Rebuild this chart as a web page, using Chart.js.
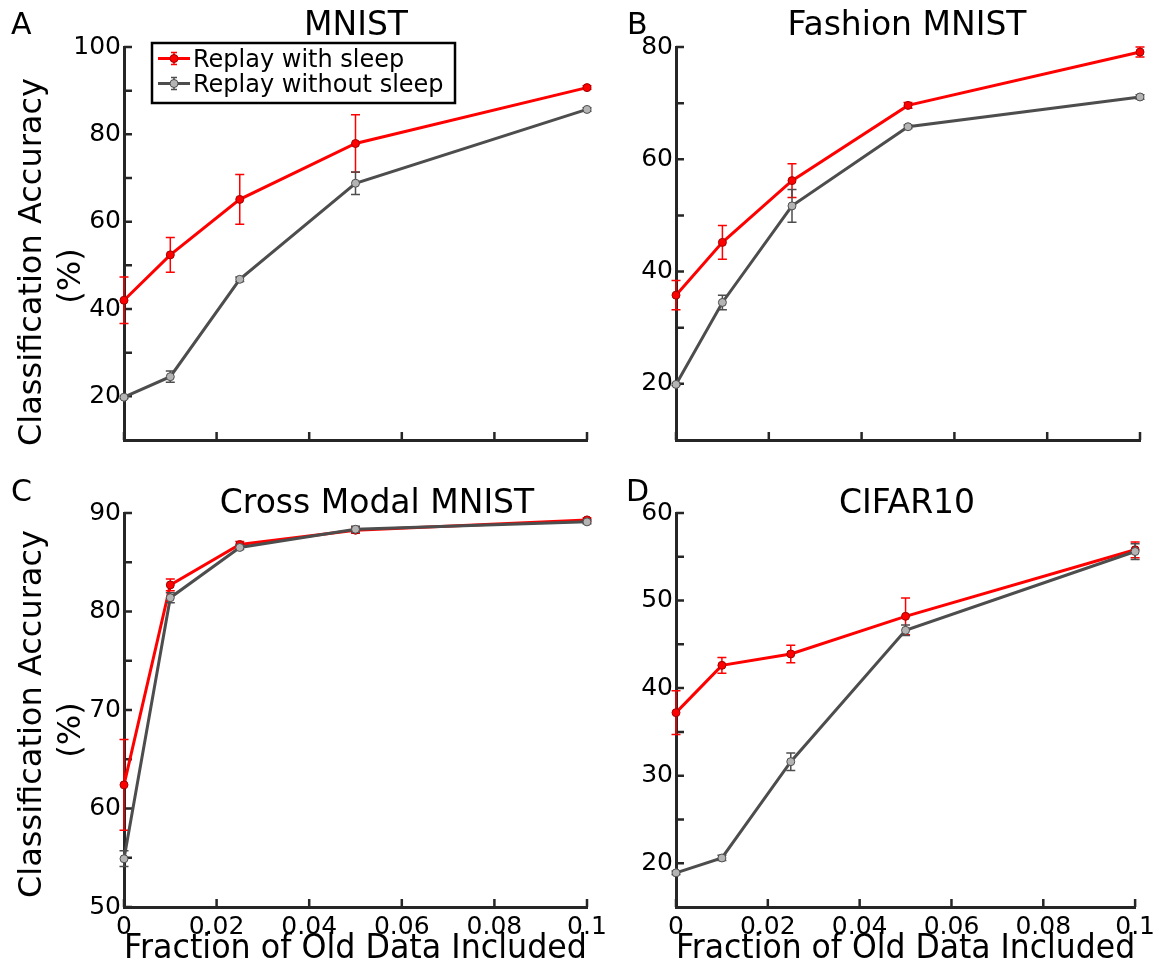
<!DOCTYPE html>
<html>
<head>
<meta charset="utf-8">
<script src="https://cdn.jsdelivr.net/npm/chart.js@4.4.1/dist/chart.umd.min.js"></script>
<style>
  html, body { margin: 0; padding: 0; background: #fff; }
  #wrap { position: relative; width: 1160px; height: 972px; }
  #wrap canvas { position: absolute; left: 0; top: 0; }
</style>
</head>
<body>
<div id="wrap">
  <canvas id="chartA" width="1160" height="972"></canvas>
  <canvas id="chartB" width="1160" height="972"></canvas>
  <canvas id="chartC" width="1160" height="972"></canvas>
  <canvas id="chartD" width="1160" height="972"></canvas>
</div>
<script>
// shared x values
const fractions = [0, 0.01, 0.025, 0.05, 0.1];
const xTicks = [0, 0.02, 0.04, 0.06, 0.08, 0.1];
const xTickLabels = ['0', '0.02', '0.04', '0.06', '0.08', '0.1'];
const seriesNames = ['Replay with sleep', 'Replay without sleep'];

// A - MNIST
const sleepA = [42.0, 52.4, 65.1, 77.9, 90.7];
const sleepErrA = [5.3, 4.0, 5.7, 6.6, 0.4];
const noSleepA = [19.8, 24.5, 46.8, 68.8, 85.7];
const noSleepErrA = [0.3, 1.3, 0.5, 2.6, 0.4];
const yTicksA = [20, 30, 40, 50, 60, 70, 80, 90, 100];
const yLabelsA = [20, 40, 60, 80, 100];

// B - Fashion MNIST
const sleepB = [35.8, 45.2, 56.2, 69.6, 79.1];
const sleepErrB = [2.6, 3.0, 3.0, 0.5, 0.9];
const noSleepB = [19.9, 34.5, 51.7, 65.8, 71.1];
const noSleepErrB = [0.2, 1.3, 2.9, 0.3, 0.4];
const yTicksB = [20, 30, 40, 50, 60, 70, 80];
const yLabelsB = [20, 40, 60, 80];

// C - Cross Modal MNIST
const sleepC = [62.4, 82.7, 86.8, 88.25, 89.3];
const sleepErrC = [4.6, 0.6, 0.3, 0.3, 0.2];
const noSleepC = [54.9, 81.4, 86.5, 88.35, 89.1];
const noSleepErrC = [0.8, 0.5, 0.2, 0.3, 0.2];
const yTicksC = [50, 55, 60, 65, 70, 75, 80, 85, 90];
const yLabelsC = [50, 60, 70, 80, 90];

// D - CIFAR10
const sleepD = [37.2, 42.6, 43.9, 48.2, 55.8];
const sleepErrD = [2.5, 0.9, 1.0, 2.1, 0.9];
const noSleepD = [18.9, 20.6, 31.6, 46.6, 55.6];
const noSleepErrD = [0.2, 0.3, 1.0, 0.6, 0.9];
const yTicksD = [20, 25, 30, 35, 40, 45, 50, 55, 60];
const yLabelsD = [20, 30, 40, 50, 60];

const RED = '#ff0000';
const GREY = '#4d4d4d';
const AXIS = '#262626';
const FONT = '"DejaVu Sans", Verdana, sans-serif';

Chart.defaults.font.family = FONT;
Chart.defaults.color = '#000';

// error bars, drawn just before each dataset's own line/markers
const errorBars = {
    id: 'errorBars',
    beforeDatasetDraw(chart, args) {
        const ds = chart.data.datasets[args.index];
        if (!ds.err) return;
        const { ctx, scales: { x, y } } = chart;
        ctx.save();
        ctx.strokeStyle = ds.errColor;
        ctx.lineWidth = 1.5;
        ds.data.forEach((pt, i) => {
            const px = x.getPixelForValue(pt.x);
            const top = y.getPixelForValue(pt.y + ds.err[i]);
            const bot = y.getPixelForValue(pt.y - ds.err[i]);
            ctx.beginPath();
            ctx.moveTo(px, top); ctx.lineTo(px, bot);
            ctx.moveTo(px - 4.5, top); ctx.lineTo(px + 4.5, top);
            ctx.moveTo(px - 4.5, bot); ctx.lineTo(px + 4.5, bot);
            ctx.stroke();
        });
        ctx.restore();
    }
};

// matlab style ticks pointing into the plot
const inwardTicks = {
    id: 'inwardTicks',
    beforeDatasetsDraw(chart) {
        const { ctx, chartArea, scales: { x, y } } = chart;
        ctx.save();
        ctx.strokeStyle = AXIS;
        ctx.lineWidth = 2.5;
        ctx.beginPath();
        x.ticks.forEach(t => {
            const px = x.getPixelForValue(t.value);
            ctx.moveTo(px, chartArea.bottom);
            ctx.lineTo(px, chartArea.bottom - 8);
        });
        y.ticks.forEach(t => {
            const py = y.getPixelForValue(t.value);
            ctx.moveTo(chartArea.left, py);
            ctx.lineTo(chartArea.left + 8, py);
        });
        ctx.stroke();
        ctx.restore();
    }
};

// panel letter, title, y label and the legend box
const panelText = {
    id: 'panelText',
    afterDraw(chart, args, o) {
        const { ctx } = chart;
        ctx.save();
        ctx.fillStyle = '#000';
        ctx.textBaseline = 'alphabetic';
        ctx.textAlign = 'left';
        ctx.font = '30px ' + FONT;
        ctx.fillText(o.letter, o.letterX, o.letterY);
        ctx.textAlign = 'center';
        ctx.font = '33px ' + FONT;
        ctx.fillText(o.title, o.titleX, o.titleY);

        if (o.yTitle1) {
            ctx.font = '32px ' + FONT;
            ctx.save();
            ctx.translate(41, o.yTitleY1);
            ctx.rotate(-Math.PI / 2);
            ctx.fillText(o.yTitle1, 0, 0);
            ctx.restore();
            ctx.save();
            ctx.translate(80, o.yTitleY2);
            ctx.rotate(-Math.PI / 2);
            ctx.fillText(o.yTitle2, 0, 0);
            ctx.restore();
        }

        if (o.legend) {
            ctx.fillStyle = '#fff';
            ctx.fillRect(152, 43, 303, 60);
            ctx.strokeStyle = '#000';
            ctx.lineWidth = 2.5;
            ctx.strokeRect(152, 43, 303, 60);
            chart.data.datasets.forEach((ds, i) => {
                const ly = 58.5 + i * 25;
                ctx.strokeStyle = ds.borderColor;
                ctx.lineWidth = 3;
                ctx.beginPath();
                ctx.moveTo(158, ly); ctx.lineTo(190, ly);
                ctx.stroke();
                ctx.strokeStyle = ds.errColor;
                ctx.lineWidth = 1.5;
                ctx.beginPath();
                ctx.moveTo(174, ly - 6); ctx.lineTo(174, ly + 6);
                ctx.moveTo(171, ly - 6); ctx.lineTo(177, ly - 6);
                ctx.moveTo(171, ly + 6); ctx.lineTo(177, ly + 6);
                ctx.stroke();
                ctx.beginPath();
                ctx.arc(174, ly, 4, 0, Math.PI * 2);
                ctx.fillStyle = ds.pointBackgroundColor;
                ctx.fill();
                ctx.lineWidth = 1;
                ctx.strokeStyle = ds.pointBorderColor;
                ctx.stroke();
                ctx.fillStyle = '#000';
                ctx.textAlign = 'left';
                ctx.font = '24px ' + FONT;
                ctx.fillText(ds.label, 193, 67 + i * 25);
            });
        }
        ctx.restore();
    }
};

function toPoints(values) {
    return values.map((v, i) => ({ x: fractions[i], y: v }));
}

function makePanel(id, p) {
    return new Chart(document.getElementById(id), {
        type: 'line',
        data: {
            datasets: [{
                label: seriesNames[0],
                data: toPoints(p.sleep),
                err: p.sleepErr,
                errColor: RED,
                borderColor: RED,
                backgroundColor: RED,
                borderWidth: 3,
                pointRadius: 4,
                pointBorderWidth: 1,
                pointBackgroundColor: RED,
                pointBorderColor: '#a00000',
                clip: false,
                order: 1
            },
            {
                label: seriesNames[1],
                data: toPoints(p.noSleep),
                err: p.noSleepErr,
                errColor: GREY,
                borderColor: GREY,
                backgroundColor: GREY,
                borderWidth: 3,
                pointRadius: 4,
                pointBorderWidth: 1,
                pointBackgroundColor: '#b4b4b4',
                pointBorderColor: GREY,
                clip: false,
                order: 0
            }]
        },
        options: {
            responsive: false,
            animation: false,
            events: [],
            layout: {
                padding: { left: p.box.left - 124, top: p.box.top, right: 1160 - p.box.right, bottom: 0 }
            },
            plugins: {
                legend: { display: false },
                tooltip: { enabled: false },
                panelText: p.text
            },
            scales: {
                x: {
                    type: 'linear',
                    min: 0,
                    max: 0.1,
                    afterBuildTicks: s => { s.ticks = xTicks.map(v => ({ value: v })); },
                    afterFit: s => { s.height = 972 - p.box.bottom; },
                    grid: { display: false, drawTicks: false },
                    border: { color: AXIS, width: 3 },
                    ticks: {
                        display: p.showX,
                        autoSkip: false,
                        maxRotation: 0,
                        padding: 5,
                        font: { size: 25 },
                        callback: v => xTickLabels[xTicks.indexOf(v)]
                    },
                    title: {
                        display: p.showX,
                        text: 'Fraction of Old Data Included',
                        font: { size: 33 },
                        padding: { top: 0, bottom: 3 }
                    }
                },
                y: {
                    min: p.yMin,
                    max: p.yMax,
                    afterBuildTicks: s => { s.ticks = p.yTicks.map(v => ({ value: v })); },
                    afterFit: s => { s.width = 124; },
                    grid: { display: false, drawTicks: false },
                    border: { color: AXIS, width: 3 },
                    ticks: {
                        padding: 3,
                        font: { size: 25 },
                        callback: v => p.yLabels.includes(v) ? String(v) : ''
                    }
                }
            }
        },
        plugins: [errorBars, inwardTicks, panelText]
    });
}

makePanel('chartA', {
    sleep: sleepA, sleepErr: sleepErrA, noSleep: noSleepA, noSleepErr: noSleepErrA,
    yTicks: yTicksA, yLabels: yLabelsA, yMin: 10, yMax: 100, showX: false,
    box: { left: 124, top: 47, right: 587, bottom: 440 },
    text: { letter: 'A', letterX: 11, letterY: 34, title: 'MNIST', titleX: 356, titleY: 35,
            yTitle1: 'Classification Accuracy', yTitle2: '(%)', yTitleY1: 262, yTitleY2: 276, legend: true }
});

makePanel('chartB', {
    sleep: sleepB, sleepErr: sleepErrB, noSleep: noSleepB, noSleepErr: noSleepErrB,
    yTicks: yTicksB, yLabels: yLabelsB, yMin: 10, yMax: 80, showX: false,
    box: { left: 676, top: 47, right: 1140, bottom: 440 },
    text: { letter: 'B', letterX: 627, letterY: 34, title: 'Fashion MNIST', titleX: 907, titleY: 35 }
});

makePanel('chartC', {
    sleep: sleepC, sleepErr: sleepErrC, noSleep: noSleepC, noSleepErr: noSleepErrC,
    yTicks: yTicksC, yLabels: yLabelsC, yMin: 50, yMax: 90, showX: true,
    box: { left: 124, top: 513, right: 587, bottom: 907 },
    text: { letter: 'C', letterX: 11, letterY: 501, title: 'Cross Modal MNIST', titleX: 377, titleY: 513,
            yTitle1: 'Classification Accuracy', yTitle2: '(%)', yTitleY1: 714, yTitleY2: 730 }
});

makePanel('chartD', {
    sleep: sleepD, sleepErr: sleepErrD, noSleep: noSleepD, noSleepErr: noSleepErrD,
    yTicks: yTicksD, yLabels: yLabelsD, yMin: 15, yMax: 60, showX: true,
    box: { left: 676, top: 513, right: 1140, bottom: 907 },
    text: { letter: 'D', letterX: 626, letterY: 501, title: 'CIFAR10', titleX: 907, titleY: 513 }
});
</script>
</body>
</html>
